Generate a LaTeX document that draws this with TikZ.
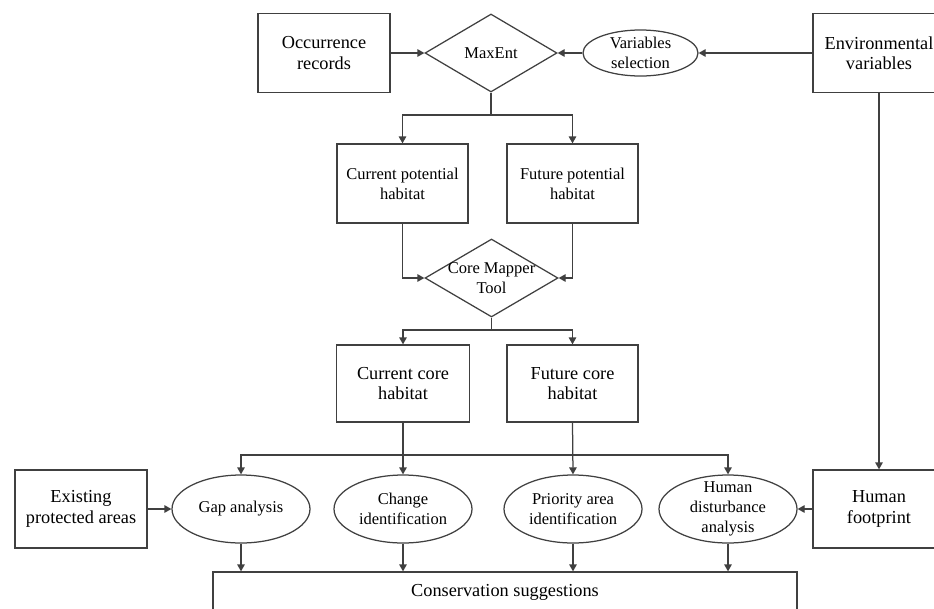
\documentclass[tikz,border=0pt]{standalone}
\usepackage{fontspec}
\setmainfont{Liberation Serif}
\usetikzlibrary{shapes.geometric,arrows.meta}
\newcommand\fbig{\fontsize{18.3}{20.5}\selectfont}
\newcommand\fsmall{\fontsize{16.5}{20}\selectfont}
\definecolor{ln}{HTML}{404040}
\tikzset{
  ln/.style={draw=ln, line width=1.25pt},
  arr/.style={ln, -{Triangle[length=7pt,width=7.5pt]}},
  boxbig/.style={ln, rectangle, inner sep=0pt, align=center, font=\fbig, fill=white},
  boxsmall/.style={ln, rectangle, inner sep=0pt, align=center, font=\fsmall, fill=white},
  diam/.style={ln, shape=diamond, inner sep=0pt, minimum width=132pt, minimum height=78pt},
  ell/.style={ln, shape=ellipse, inner sep=0pt, minimum width=138pt, minimum height=68pt},
  txt/.style={font=\fsmall, align=center, inner sep=0pt}
}
\begin{document}
\begin{tikzpicture}[x=1pt,y=-1pt]
\useasboundingbox (0,0) rectangle (934,608);
% top row
\node[boxbig, minimum width=132pt, minimum height=79pt] (occ) at (324,53) {Occurrence\\records};
\node[diam, label={[txt]center:MaxEnt}] (maxent) at (491,53) {};
\node[ln, shape=ellipse, inner sep=0pt, minimum width=115pt, minimum height=46pt,
      label={[txt]center:Variables\\selection}] (varsel) at (640.5,53) {};
\node[boxbig, minimum width=132pt, minimum height=79pt] (env) at (879,53) {Environmental\\variables};
% potential habitats
\node[boxsmall, minimum width=131pt, minimum height=79pt] (cpot) at (402.5,183.5) {Current potential\\habitat};
\node[boxsmall, minimum width=131pt, minimum height=79pt] (fpot) at (572.5,183.5) {Future potential\\habitat};
\node[diam, minimum width=133pt, label={[txt]center:Core Mapper\\Tool}] (core) at (491.5,278) {};
% core habitats
\node[boxbig, minimum width=133pt, minimum height=77pt] (ccore) at (403,383.5) {Current core\\habitat};
\node[boxbig, minimum width=131pt, minimum height=77pt] (fcore) at (572.5,383.5) {Future core\\habitat};
% analyses
\node[ell, label={[txt]center:Gap analysis}] (gap) at (241,509) {};
\node[ell, label={[txt]center:Change\\identification}] (chg) at (403,509) {};
\node[ell, label={[txt]center:Priority area\\identification}] (pri) at (573,509) {};
\node[ell, label={[txt]center:Human\\disturbance\\analysis}] (hum) at (728,509) {};
\node[boxbig, minimum width=132pt, minimum height=78pt] (exist) at (81,509) {Existing\\protected areas};
\node[boxbig, minimum width=132pt, minimum height=78pt] (hfp) at (879,509) {Human\\footprint};
\node[boxbig, minimum width=584pt, minimum height=40pt] (cons) at (505,592) {Conservation suggestions};
% junctions
\coordinate (j1) at (491,115);
\coordinate (j2) at (491.5,330);
\coordinate (b1) at (403,455);
\coordinate (b2) at (572.5,455);
% connectors top
\draw[arr] (occ.east) -- (maxent.west);
\draw[arr] (varsel.west) -- (maxent.east);
\draw[arr] (env.west) -- (varsel.east);
\draw[ln] (maxent.south) -- (j1);
\draw[arr] (j1) -| (cpot.north);
\draw[arr] (j1) -| (fpot.north);
\draw[arr] (cpot.south) |- (core.west);
\draw[arr] (fpot.south) |- (core.east);
\draw[ln] (core.south) -- (j2);
\draw[arr] (j2) -| (ccore.north);
\draw[arr] (j2) -| (fcore.north);
% bus
\draw[arr] (ccore.south) -- (chg.north);
\draw[arr] (fcore.south) -- (pri.north);
\draw[ln] (b1) -- (b2);
\draw[arr] (b1) -| (gap.north);
\draw[arr] (b2) -| (hum.north);
% side inputs
\draw[arr] (exist.east) -- (gap.west);
\draw[arr] (hfp.west) -- (hum.east);
\draw[arr] (env.south) -- (hfp.north);
% to conservation
\draw[arr] (gap.south) -- (gap.south |- cons.north);
\draw[arr] (chg.south) -- (chg.south |- cons.north);
\draw[arr] (pri.south) -- (pri.south |- cons.north);
\draw[arr] (hum.south) -- (hum.south |- cons.north);
\end{tikzpicture}
\end{document}
